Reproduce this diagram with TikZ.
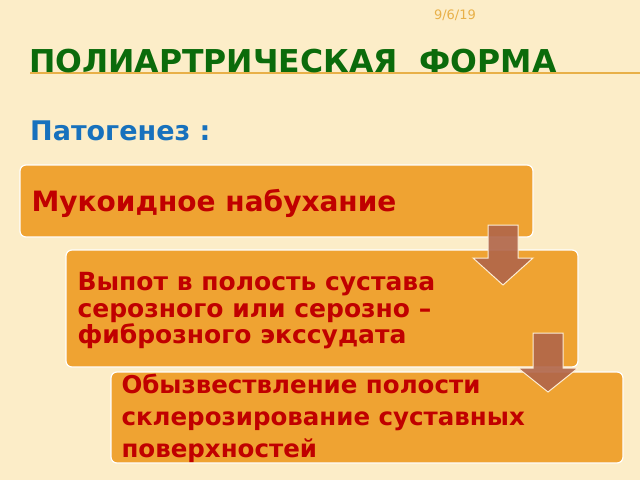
\documentclass[tikz,border=0pt]{standalone}
\usepackage{fontspec}
\setmainfont{DejaVu Sans}
\usetikzlibrary{positioning}
\definecolor{slideBg}{HTML}{FCEDC8}
\definecolor{boxFill}{HTML}{EFA332}
\definecolor{titleGreen}{HTML}{0B6B0B}
\definecolor{headBlue}{HTML}{1771BD}
\definecolor{stepRed}{HTML}{C00000}
\definecolor{arrowBrown}{HTML}{B0654A}
\definecolor{lineOrange}{HTML}{E8B048}
\tikzset{
  stagebox/.style={fill=boxFill, draw=white, line width=1.2pt, rounded corners=6pt},
  stagetext/.style={text=stepRed, font=\bfseries, align=left, anchor=west},
  downarrow/.style={fill=arrowBrown, fill opacity=.9, draw=white!80!boxFill, line width=1pt}
}
\begin{document}
\begin{tikzpicture}[x=1pt,y=-1pt]
  \useasboundingbox[fill=slideBg] (0,0) rectangle (640,480);

  % header
  \node (date) [text=lineOrange, font=\fontsize{13}{14}\selectfont] at (455,15) {9/6/19};
  \draw [lineOrange, line width=1.2pt] (30,73) -- (640,73);
  \node (title) [anchor=base west, inner sep=0pt, text=titleGreen,
    font=\fontsize{31.5}{34}\selectfont\bfseries] at (29,72) {ПОЛИАРТРИЧЕСКАЯ\ \ ФОРМА};
  \node (pathogen) [anchor=base west, inner sep=0pt, text=headBlue,
    font=\fontsize{27}{30}\selectfont\bfseries] at (30,140) {Патогенез :};

  % the three stages
  \draw [stagebox] (20,165) rectangle (533,237);
  \node (stageA) [stagetext, font=\fontsize{28}{32}\selectfont\bfseries] at (28,203) {Мукоидное набухание};

  \draw [stagebox] (66,250) rectangle (578,367);
  \node (stageB) [stagetext, font=\fontsize{25}{26.5}\selectfont\bfseries] at (74,311)
    {Выпот в полость сустава\\серозного или серозно –\\фиброзного экссудата};

  \draw [stagebox] (111,372) rectangle (623,463);
  \node (stageC) [stagetext, font=\fontsize{24.5}{32}\selectfont\bfseries] at (118,418)
    {Обызвествление полости\\склерозирование суставных\\поверхностей};

  % arrows between stages
  \draw [downarrow] (488,225) -- (518,225) -- (518,258) -- (533,258) -- (503,285)
    -- (473,258) -- (488,258) -- cycle;
  \draw [downarrow] (533,333) -- (563,333) -- (563,368) -- (578,368) -- (548,392)
    -- (518,368) -- (533,368) -- cycle;
\end{tikzpicture}
\end{document}
